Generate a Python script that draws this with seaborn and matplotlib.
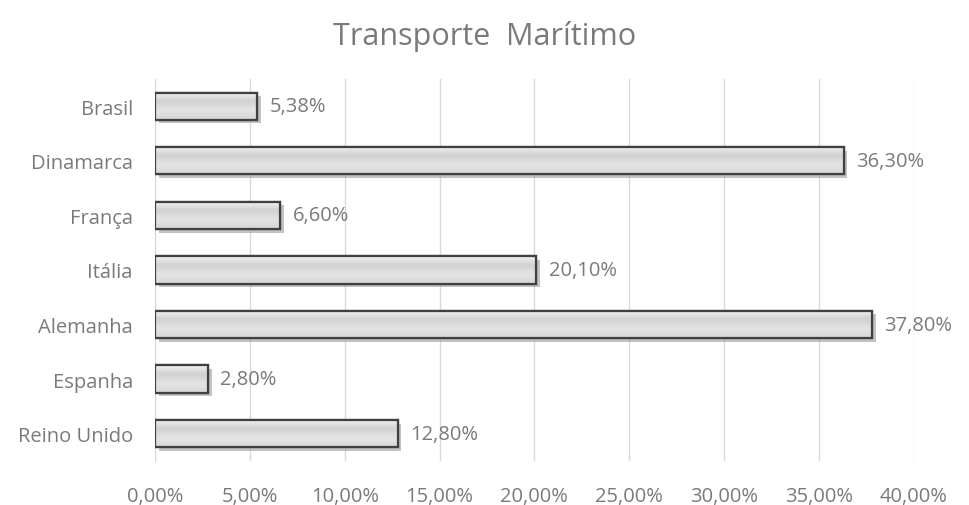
import numpy as np
import pandas as pd
import matplotlib
matplotlib.use("Agg")
import matplotlib.pyplot as plt
import matplotlib.patheffects as pe
from matplotlib.ticker import FuncFormatter
import seaborn as sns

# Chart data
countries = ["Brasil", "Dinamarca", "França", "Itália", "Alemanha", "Espanha", "Reino Unido"]
shares = [5.38, 36.30, 6.60, 20.10, 37.80, 2.80, 12.80]
x_ticks = [0, 5, 10, 15, 20, 25, 30, 35, 40]

df = pd.DataFrame({"pais": countries, "valor": shares})

sns.set_style("white")
plt.rcParams["font.family"] = ["Open Sans", "DejaVu Sans"]
text_gray = "#7a7a7a"

fig = plt.figure(figsize=(9.69, 5.06), dpi=100)
ax = fig.add_axes([0.16, 0.087, 0.783, 0.755])

sns.barplot(data=df, x="valor", y="pais", orient="h", color="#d9d9d9",
            edgecolor="#404040", linewidth=1.6, width=0.5, ax=ax, zorder=3)

# gradient fill + shadow on each bar
grad = np.array([[0.93], [0.80], [0.86], [0.90], [0.84]])
for bar in ax.patches:
    bar.set_path_effects([pe.SimplePatchShadow(offset=(2.5, -2.5), shadow_rgbFace="#9a9a9a", alpha=0.6),
                          pe.Normal()])
    x0, y0 = bar.get_x(), bar.get_y()
    w, h = bar.get_width(), bar.get_height()
    im = ax.imshow(grad, cmap="gray", vmin=0, vmax=1, aspect="auto",
                   extent=[x0, x0 + w, y0 + h, y0], zorder=3.5, interpolation="bicubic")
    im.set_clip_path(bar)
    ax.add_patch(plt.Rectangle((x0, y0), w, h, fill=False, edgecolor="#404040",
                               linewidth=1.6, zorder=4))

for i, v in enumerate(shares):
    ax.text(v + 0.65, i, f"{v:.2f}%".replace(".", ","), va="center", ha="left",
            fontsize=14.5, color=text_gray, zorder=5)

ax.set_xlim(0, 40)
ax.set_ylim(6.5, -0.5)
ax.set_xticks(x_ticks)
ax.xaxis.set_major_formatter(FuncFormatter(lambda v, p: f"{v:.2f}%".replace(".", ",")))
ax.grid(axis="x", color="#d9d9d9", linewidth=1, zorder=0)
ax.set_axisbelow(True)
for s in ["top", "right", "bottom"]:
    ax.spines[s].set_visible(False)
ax.spines["left"].set_color("#d9d9d9")
ax.tick_params(axis="both", length=0, labelsize=14.5, labelcolor=text_gray)
ax.tick_params(axis="y", pad=16)
ax.tick_params(axis="x", pad=18)
ax.set_xlabel("")
ax.set_ylabel("")

fig.text(0.5, 0.928, "Transporte  Marítimo", ha="center", va="center",
         fontsize=22, color=text_gray)

fig.savefig("out.png", dpi=100)
